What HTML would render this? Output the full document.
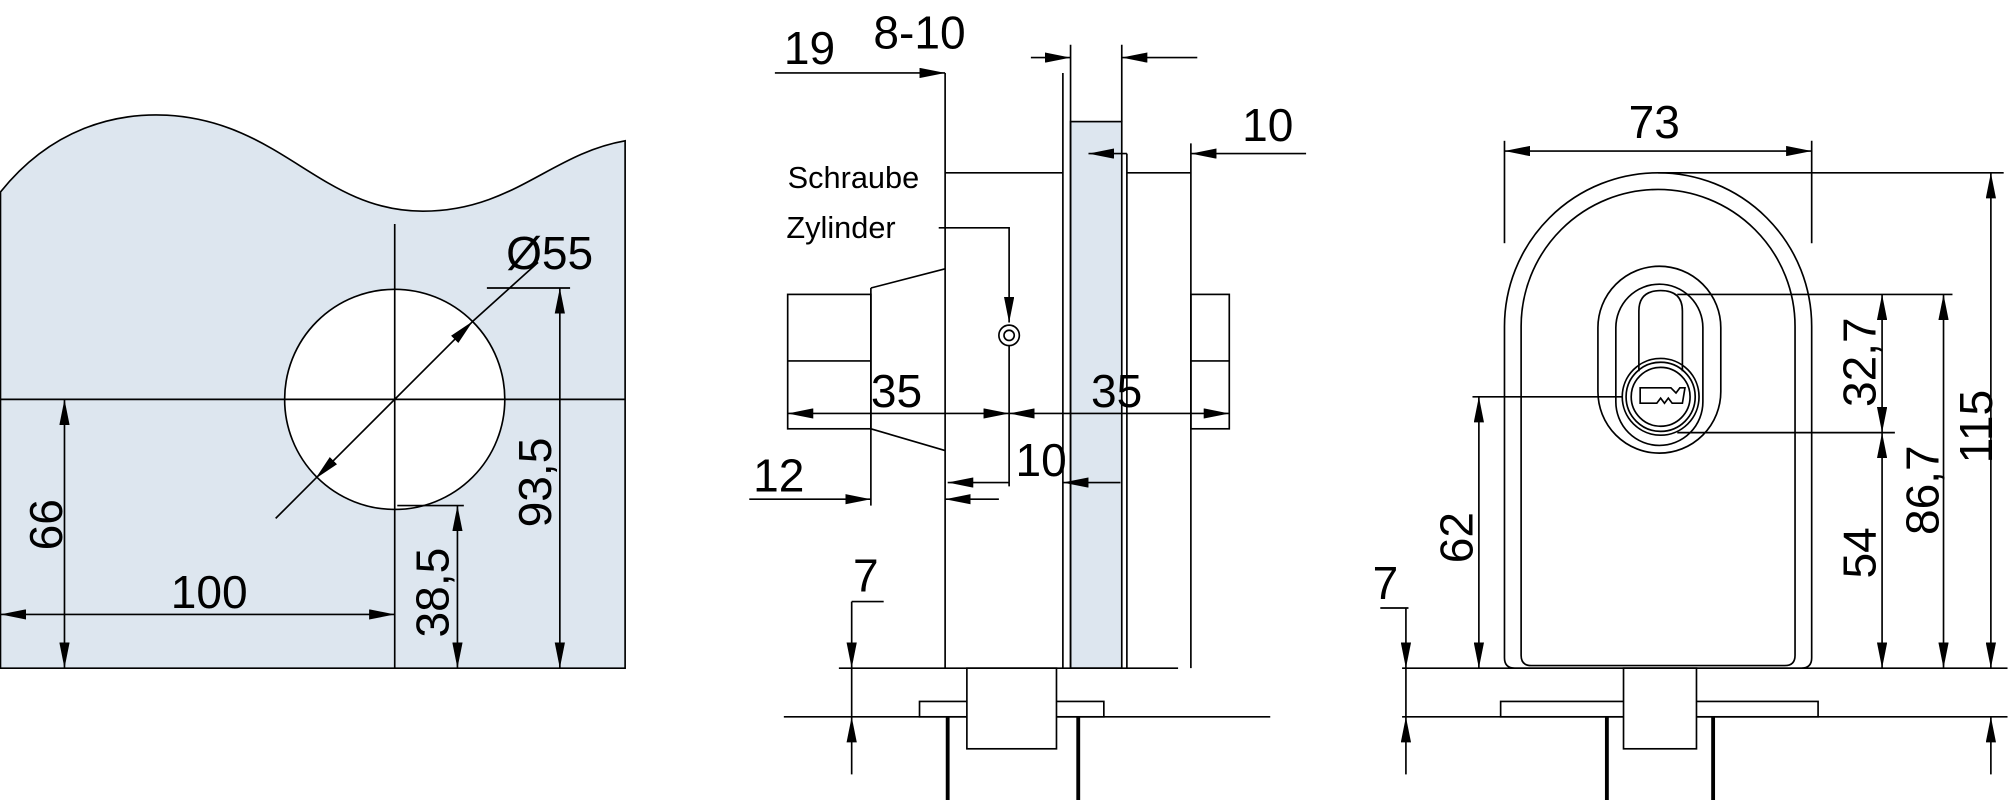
<!DOCTYPE html>
<html><head><meta charset="utf-8"><style>
html,body{margin:0;padding:0;background:#fff;}
svg{display:block;}
text{font-family:"Liberation Sans",sans-serif;fill:#000;}
</style></head><body>
<svg width="2008" height="800" viewBox="0 0 1568 625" xmlns="http://www.w3.org/2000/svg">
<defs>
<marker id="a" viewBox="0 0 20 8" refX="20" refY="4" markerWidth="20" markerHeight="8" markerUnits="userSpaceOnUse" orient="auto-start-reverse"><path d="M0,0 L20,4 L0,8 Z" fill="#000"/></marker>
</defs>
<g stroke="#000" stroke-width="1.3" fill="none">
<path d="M0,150 C40,100 90,88 130,90 C220,95 250,165 330,165 C400,165 430,120 488,110 L488,522 L0,522 Z" fill="#dde6ef"/>
<circle cx="308" cy="312" r="86" fill="#fff"/>
<line x1="308" y1="175" x2="308" y2="522"/>
<line x1="0" y1="312" x2="488" y2="312"/>
<line x1="215" y1="405" x2="246" y2="374"/>
<line x1="246" y1="374" x2="369" y2="251" marker-start="url(#a)" marker-end="url(#a)"/>
<line x1="369" y1="251" x2="420" y2="205"/>
<line x1="380" y1="225" x2="445" y2="225"/>
<line x1="437" y1="225" x2="437" y2="522" marker-start="url(#a)" marker-end="url(#a)"/>
<line x1="310" y1="395" x2="362" y2="395"/>
<line x1="357" y1="395" x2="357" y2="522" marker-start="url(#a)" marker-end="url(#a)"/>
<line x1="50" y1="312" x2="50" y2="522" marker-start="url(#a)" marker-end="url(#a)"/>
<line x1="0" y1="480" x2="308" y2="480" marker-start="url(#a)" marker-end="url(#a)"/>
<rect x="836" y="95" width="40" height="427" fill="#dde6ef"/>
<line x1="738" y1="57" x2="738" y2="522"/>
<line x1="830" y1="57" x2="830" y2="522"/>
<line x1="836" y1="35" x2="836" y2="522"/>
<line x1="876" y1="35" x2="876" y2="95"/>
<line x1="880" y1="120" x2="880" y2="522"/>
<line x1="930" y1="112" x2="930" y2="522"/>
<line x1="738" y1="135" x2="830" y2="135"/>
<line x1="880" y1="135" x2="930" y2="135"/>
<line x1="655" y1="522" x2="920" y2="522"/>
<rect x="615" y="230" width="65" height="105"/>
<path d="M680,225 L738,210 M680,335 L738,352 M680,225 L680,335"/>
<rect x="930" y="230" width="30" height="105"/>
<line x1="615" y1="282" x2="680" y2="282"/>
<line x1="930" y1="282" x2="960" y2="282"/>
<circle cx="788" cy="262" r="8"/><circle cx="788" cy="262" r="4"/>
<polyline points="733,178 788,178 788,252" marker-end="url(#a)"/>
<line x1="788" y1="270" x2="788" y2="380"/>
<line x1="605" y1="57" x2="738" y2="57" marker-end="url(#a)"/>
<line x1="805" y1="45" x2="836" y2="45" marker-end="url(#a)"/>
<line x1="935" y1="45" x2="876" y2="45" marker-end="url(#a)"/>
<line x1="850" y1="120" x2="880" y2="120" marker-start="url(#a)"/>
<line x1="1020" y1="120" x2="930" y2="120" marker-end="url(#a)"/>
<line x1="615" y1="323" x2="788" y2="323" marker-start="url(#a)" marker-end="url(#a)"/>
<line x1="788" y1="323" x2="960" y2="323" marker-start="url(#a)" marker-end="url(#a)"/>
<line x1="585" y1="390" x2="680" y2="390" marker-end="url(#a)"/>
<line x1="780" y1="390" x2="738" y2="390" marker-end="url(#a)"/>
<line x1="680" y1="335" x2="680" y2="395"/>
<line x1="740" y1="377" x2="788" y2="377" marker-start="url(#a)"/>
<line x1="875" y1="377" x2="830" y2="377" marker-end="url(#a)"/>
<line x1="665" y1="470" x2="665" y2="522" marker-end="url(#a)"/>
<line x1="665" y1="605" x2="665" y2="560" marker-end="url(#a)"/>
<line x1="665" y1="522" x2="665" y2="560"/>
<line x1="665" y1="470" x2="690" y2="470"/>
<line x1="612" y1="560" x2="992" y2="560"/>
<rect x="718" y="548" width="144" height="12"/>
<rect x="755" y="522" width="70" height="63" fill="#fff"/>
<path d="M740,560 V625 M842,560 V625" stroke-width="3"/>
<path d="M1175,514 V255 A120,120 0 0 1 1415,255 V514 Q1415,522 1407,522 H1183 Q1175,522 1175,514 Z"/>
<path d="M1188,512 V255 A107,107 0 0 1 1402,255 V512 Q1402,520 1394,520 H1196 Q1188,520 1188,512 Z"/>
<rect x="1248" y="208" width="96" height="146" rx="48"/>
<rect x="1262" y="222" width="68" height="126" rx="34"/>
<path d="M1280,290 V243 Q1280,227 1297,227 Q1314,227 1314,243 V290"/>
<circle cx="1297" cy="310" r="30"/><circle cx="1297" cy="310" r="27"/><circle cx="1297" cy="310" r="23"/>
<path d="M1281,303 H1305 L1309,307 L1312,303 H1316 L1314,315 H1306 L1303,311 L1300,315 L1297,311 L1294,315 H1281 Z"/>
<line x1="1175" y1="118" x2="1415" y2="118" marker-start="url(#a)" marker-end="url(#a)"/>
<line x1="1175" y1="110" x2="1175" y2="190"/><line x1="1415" y1="110" x2="1415" y2="190"/>
<line x1="1295" y1="135" x2="1565" y2="135"/>
<line x1="1555" y1="135" x2="1555" y2="522" marker-start="url(#a)" marker-end="url(#a)"/>
<line x1="1310" y1="230" x2="1525" y2="230"/>
<line x1="1518" y1="230" x2="1518" y2="522" marker-start="url(#a)" marker-end="url(#a)"/>
<line x1="1470" y1="230" x2="1470" y2="338" marker-start="url(#a)" marker-end="url(#a)"/>
<line x1="1470" y1="338" x2="1470" y2="522" marker-start="url(#a)" marker-end="url(#a)"/>
<line x1="1310" y1="338" x2="1480" y2="338"/>
<line x1="1150" y1="310" x2="1267" y2="310"/>
<line x1="1155" y1="310" x2="1155" y2="522" marker-start="url(#a)" marker-end="url(#a)"/>
<line x1="1095" y1="522" x2="1568" y2="522"/>
<line x1="1095" y1="560" x2="1568" y2="560"/>
<line x1="1098" y1="475" x2="1098" y2="522" marker-end="url(#a)"/>
<line x1="1098" y1="605" x2="1098" y2="560" marker-end="url(#a)"/>
<line x1="1098" y1="522" x2="1098" y2="560"/>
<line x1="1078" y1="475" x2="1100" y2="475"/>
<line x1="1555" y1="560" x2="1555" y2="605" marker-start="url(#a)"/>
<rect x="1172" y="548" width="248" height="12"/>
<rect x="1268" y="522" width="57" height="63" fill="#fff"/>
<path d="M1255,560 V625 M1338,560 V625" stroke-width="3"/>
</g>
<g font-size="36">
<text x="395" y="210">Ø55</text>
<text x="133" y="475">100</text>
<text transform="translate(48,430) rotate(-90)">66</text>
<text transform="translate(350,498) rotate(-90)">38,5</text>
<text transform="translate(430,412) rotate(-90)">93,5</text>
<text x="612" y="50">19</text>
<text x="682" y="38">8-10</text>
<text x="970" y="110">10</text>
<text x="680" y="318">35</text>
<text x="852" y="318">35</text>
<text x="588" y="384">12</text>
<text x="793" y="372">10</text>
<text x="666" y="462">7</text>
<text x="1272" y="108">73</text>
<text transform="translate(1556,362) rotate(-90)">115</text>
<text transform="translate(1514,418) rotate(-90)">86,7</text>
<text transform="translate(1465,318) rotate(-90)">32,7</text>
<text transform="translate(1465,452) rotate(-90)">54</text>
<text transform="translate(1150,440) rotate(-90)">62</text>
<text x="1072" y="468">7</text>
</g>
<g font-size="24">
<text x="615" y="147">Schraube</text>
<text x="614" y="186">Zylinder</text>
</g>
</svg>
</body></html>
